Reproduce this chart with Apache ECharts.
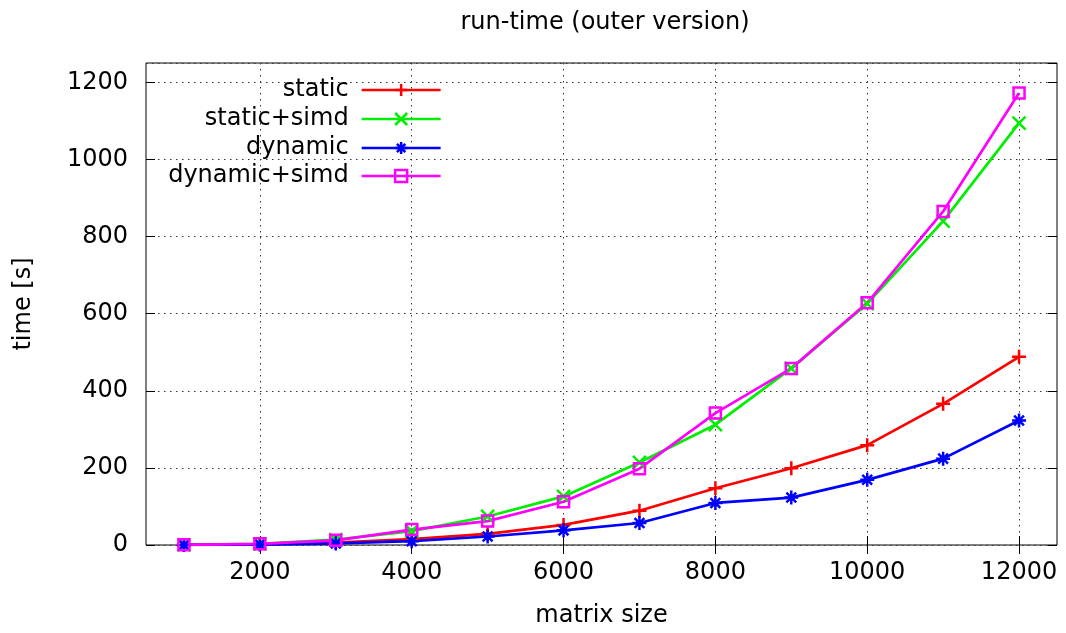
<!DOCTYPE html>
<html>
<head>
<meta charset="utf-8">
<script src="https://cdn.jsdelivr.net/npm/echarts@6/dist/echarts.min.js"></script>
<style>
  html, body { margin: 0; padding: 0; background: #fff; }
  #chart { width: 1066px; height: 633px; }
</style>
</head>
<body>
<div id="chart"></div>
<script>
// matrix sizes on x
var sizes = [1000, 2000, 3000, 4000, 5000, 6000, 7000, 8000, 9000, 10000, 11000, 12000];
// run time in seconds
var staticTime      = [0.3, 2, 6, 15, 29, 52, 89, 147, 199, 259, 366, 488];
var staticSimdTime  = [0.5, 3, 14, 36, 74, 126, 214, 312, 458, 626, 840, 1094];
var dynamicTime     = [0.2, 1, 4, 10, 22, 38, 57, 109, 123, 169, 224, 323];
var dynamicSimdTime = [0.5, 3, 12, 40, 62, 112, 198, 342, 458, 628, 865, 1172];
// tick labels
var xTicks = [2000, 4000, 6000, 8000, 10000, 12000];

var font = 'DejaVu Sans';

function pairs(ys) {
    return sizes.map(function(x, i) { return [x, ys[i]]; });
}

var plusPath = 'path://M0,5L10,5M5,0L5,10';
var crossPath = 'path://M0,0L10,10M10,0L0,10';
var starPath = 'path://M0,5L10,5M5,0L5,10M1.5,1.5L8.5,8.5M8.5,1.5L1.5,8.5';
var boxPath = 'path://M0,0L10,0L10,10L0,10Z';

function makeSeries(name, data, color, symbol, size) {
    return {
        name: name,
        type: 'line',
        data: pairs(data),
        symbol: symbol,
        symbolSize: size,
        showAllSymbol: true,
        lineStyle: { color: color, width: 2.7 },
        itemStyle: { color: 'rgba(0,0,0,0)', borderColor: color, borderWidth: 2.5 },
        emphasis: { disabled: true },
        animation: false
    };
}

function makeLegend(name, top) {
    return {
        data: [name],
        orient: 'vertical',
        align: 'right',
        right: 624,
        top: top,
        padding: 0,
        itemWidth: 79,
        itemHeight: 15,
        selectedMode: false,
        lineStyle: { width: 2.7 },
        itemStyle: { borderWidth: 2.5 },
        textStyle: { fontFamily: font, fontSize: 24, color: '#000', padding: [0, 8, 0, 0] }
    };
}

var gridLine = { show: true, lineStyle: { color: '#333', width: 1, type: [1.5, 4.5] } };

function plain(v) { return String(v); }

var chart = echarts.init(document.getElementById('chart'));
var option = {
    backgroundColor: '#fff',
    title: {
        text: 'run-time (outer version)',
        left: 600,
        top: 6,
        textAlign: 'center',
        textStyle: { fontFamily: font, fontSize: 24, fontWeight: 'normal', color: '#000' }
    },
    legend: [
        makeLegend('static', 78),
        makeLegend('static+simd', 107),
        makeLegend('dynamic', 136),
        makeLegend('dynamic+simd', 164)
    ],
    grid: {
        left: 146, right: 9, top: 63, bottom: 85,
        show: true, borderColor: '#000', borderWidth: 1
    },
    xAxis: [{
        type: 'value',
        min: 500,
        max: 12500,
        name: 'matrix size',
        nameLocation: 'middle',
        nameGap: 59,
        nameTextStyle: { fontFamily: font, fontSize: 24, color: '#000' },
        axisLine: { show: false },
        axisTick: { show: true, inside: true, length: 9, customValues: xTicks, lineStyle: { color: '#000' } },
        axisLabel: { fontFamily: font, fontSize: 24, color: '#000', margin: 16, customValues: xTicks, formatter: plain },
        splitLine: gridLine
    }, {
        type: 'value',
        position: 'top',
        min: 500,
        max: 12500,
        axisLine: { show: false },
        axisTick: { show: true, inside: true, length: 9, customValues: xTicks, lineStyle: { color: '#000' } },
        axisLabel: { show: false, customValues: xTicks },
        splitLine: { show: false }
    }],
    yAxis: [{
        type: 'value',
        min: 0,
        max: 1250,
        interval: 200,
        name: 'time [s]',
        nameLocation: 'middle',
        nameGap: 110,
        nameTextStyle: { fontFamily: font, fontSize: 24, color: '#000' },
        axisLine: { show: false },
        axisTick: { show: true, inside: true, length: 9, lineStyle: { color: '#000' } },
        axisLabel: { fontFamily: font, fontSize: 24, color: '#000', margin: 18, showMaxLabel: false, formatter: plain },
        splitLine: gridLine
    }, {
        type: 'value',
        position: 'right',
        min: 0,
        max: 1250,
        interval: 200,
        axisLine: { show: false },
        axisTick: { show: true, inside: true, length: 9, lineStyle: { color: '#000' } },
        axisLabel: { show: false },
        splitLine: { show: false }
    }],
    series: [
        makeSeries('static', staticTime, '#ff0000', plusPath, 14),
        makeSeries('static+simd', staticSimdTime, '#00ee00', crossPath, 13),
        makeSeries('dynamic', dynamicTime, '#0000ff', starPath, 14),
        makeSeries('dynamic+simd', dynamicSimdTime, '#ff00ff', boxPath, 11)
    ]
};
chart.setOption(option);
</script>
</body>
</html>
